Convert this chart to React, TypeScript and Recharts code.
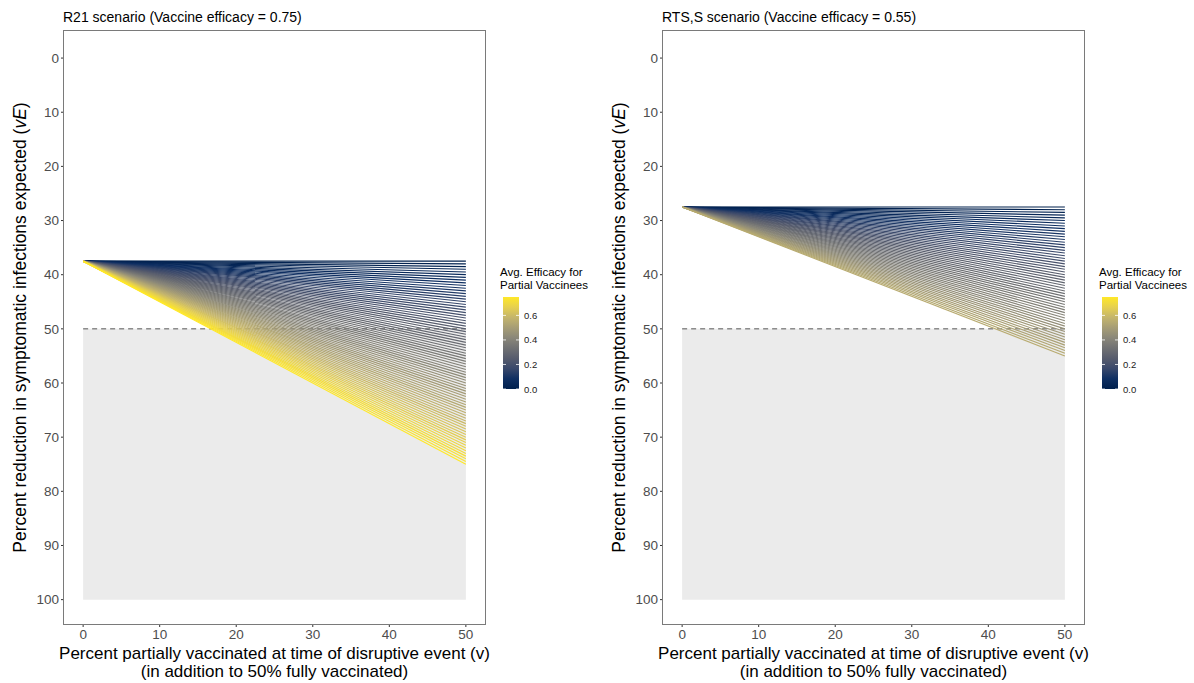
import React from 'react';
import { LineChart, Line, XAxis, YAxis, ReferenceArea, ReferenceLine } from 'recharts';

// reduction (%) at v = 0 and at v = 50, one line per avg. efficacy level
const R21_START = 37.5;
const R21_END = [
  37.5, 38, 38.5, 39, 39.5, 40, 40.5, 41, 41.5, 42, 42.5, 43, 43.5, 44, 44.5, 45, 45.5, 46, 46.5,
  47, 47.5, 48, 48.5, 49, 49.5, 50, 50.5, 51, 51.5, 52, 52.5, 53, 53.5, 54, 54.5, 55, 55.5, 56,
  56.5, 57, 57.5, 58, 58.5, 59, 59.5, 60, 60.5, 61, 61.5, 62, 62.5, 63, 63.5, 64, 64.5, 65, 65.5,
  66, 66.5, 67, 67.5, 68, 68.5, 69, 69.5, 70, 70.5, 71, 71.5, 72, 72.5, 73, 73.5, 74, 74.5, 75,
];
const RTSS_START = 27.5;
const RTSS_END = [
  27.5, 28, 28.5, 29, 29.5, 30, 30.5, 31, 31.5, 32, 32.5, 33, 33.5, 34, 34.5, 35, 35.5, 36, 36.5,
  37, 37.5, 38, 38.5, 39, 39.5, 40, 40.5, 41, 41.5, 42, 42.5, 43, 43.5, 44, 44.5, 45, 45.5, 46,
  46.5, 47, 47.5, 48, 48.5, 49, 49.5, 50, 50.5, 51, 51.5, 52, 52.5, 53, 53.5, 54, 54.5, 55,
];

const X_TICKS = [0, 10, 20, 30, 40, 50];
const Y_TICKS = [0, 10, 20, 30, 40, 50, 60, 70, 80, 90, 100];
const LEGEND_TICKS = [0, 0.2, 0.4, 0.6];
const LEGEND_MAX = 0.75;

const CIVIDIS = [
  '#00204D', '#0F2F62', '#39486B', '#575C6D', '#707173',
  '#8A8779', '#A69D75', '#C4B56C', '#E6D04F', '#FFE828',
];

const FONT = '"Liberation Sans", Arial, Helvetica, sans-serif';

const hexToRgb = (h: string) => [1, 3, 5].map((i) => parseInt(h.slice(i, i + 2), 16));

const cividis = (t: number) => {
  const c = Math.max(0, Math.min(1, t)) * (CIVIDIS.length - 1);
  const i = Math.min(Math.floor(c), CIVIDIS.length - 2);
  const f = c - i;
  const a = hexToRgb(CIVIDIS[i]);
  const b = hexToRgb(CIVIDIS[i + 1]);
  const m = a.map((v, k) => Math.round(v + (b[k] - v) * f));
  return `rgb(${m[0]},${m[1]},${m[2]})`;
};

const PLOT_LEFT = 64;
const PLOT_TOP = 31;
const PLOT_RIGHT = 485;
const PLOT_BOTTOM = 624;

interface PanelProps {
  left: number;
  title: string;
  start: number;
  ends: number[];
  id: string;
}

const ColorBar: React.FC<{ id: string }> = ({ id }) => {
  const top = 297;
  const bottom = 389;
  const h = bottom - top;
  return (
    <svg width={110} height={140} style={{ position: 'absolute', left: 495, top: 260, overflow: 'visible' }}>
      <defs>
        <linearGradient id={id} x1="0" y1="1" x2="0" y2="0">
          {CIVIDIS.map((c, i) => (
            <stop key={i} offset={i / (CIVIDIS.length - 1)} stopColor={c} />
          ))}
        </linearGradient>
      </defs>
      <g transform="translate(-495,-260)" fontFamily={FONT}>
        <text x={500} y={276} fontSize={11.5} fill="#000">Avg. Efficacy for</text>
        <text x={500} y={289} fontSize={11.5} fill="#000">Partial Vaccinees</text>
        <rect x={503} y={top} width={16} height={h} fill={`url(#${id})`} />
        {LEGEND_TICKS.map((v) => {
          const y = bottom - (v / LEGEND_MAX) * h;
          return (
            <g key={v}>
              <line x1={503} x2={506} y1={y} y2={y} stroke="#fff" strokeWidth={0.8} />
              <line x1={516} x2={519} y1={y} y2={y} stroke="#fff" strokeWidth={0.8} />
              <text x={524} y={y + 3.5} fontSize={9.5} fill="#222">{v.toFixed(1)}</text>
            </g>
          );
        })}
      </g>
    </svg>
  );
};

const Panel: React.FC<PanelProps> = ({ left, title, start, ends, id }) => {
  const cx = (PLOT_LEFT + PLOT_RIGHT) / 2;
  const cy = (PLOT_TOP + PLOT_BOTTOM) / 2;
  return (
    <div style={{ position: 'absolute', left, top: 0, width: 600, height: 683 }}>
      <LineChart
        width={486}
        height={683}
        margin={{ top: PLOT_TOP, right: 486 - PLOT_RIGHT, bottom: 683 - PLOT_BOTTOM - 30, left: 0 }}
      >
        <XAxis
          type="number"
          dataKey="x"
          domain={[-2.5, 52.5]}
          ticks={X_TICKS}
          allowDataOverflow
          axisLine={false}
          tickSize={3}
          tickLine={{ stroke: '#333' }}
          tick={{ fill: '#4D4D4D', fontSize: 13.5, fontFamily: FONT }}
          height={30}
        />
        <YAxis
          type="number"
          dataKey="y"
          domain={[-5, 104.5]}
          reversed
          ticks={Y_TICKS}
          allowDataOverflow
          axisLine={false}
          tickSize={3}
          tickLine={{ stroke: '#333' }}
          tick={{ fill: '#4D4D4D', fontSize: 13.5, fontFamily: FONT }}
          width={PLOT_LEFT}
        />
        <ReferenceArea x1={0} x2={50} y1={50} y2={100} fill="#EBEBEB" fillOpacity={1} stroke="none" />
        <ReferenceLine
          segment={[{ x: 0, y: 50 }, { x: 50, y: 50 }]}
          stroke="#555"
          strokeWidth={1}
          strokeDasharray="5 4"
        />
        {ends.map((end) => (
          <Line
            key={end}
            data={[{ x: 0, y: start }, { x: 50, y: end }]}
            dataKey="y"
            stroke={cividis((end - start) / 50 / LEGEND_MAX)}
            strokeWidth={1.15}
            dot={false}
            activeDot={false}
            isAnimationActive={false}
          />
        ))}
      </LineChart>
      <div
        style={{
          position: 'absolute',
          left: PLOT_LEFT - 1,
          top: PLOT_TOP - 1,
          width: PLOT_RIGHT - PLOT_LEFT + 2,
          height: PLOT_BOTTOM - PLOT_TOP + 2,
          border: '1px solid #7a7a7a',
          boxSizing: 'border-box',
          pointerEvents: 'none',
        }}
      />
      <svg width={600} height={683} style={{ position: 'absolute', left: 0, top: 0, pointerEvents: 'none' }}>
        <g fontFamily={FONT} fill="#000">
          <text x={63} y={22} fontSize={14}>{title}</text>
          <text x={cx} y={659} fontSize={17} textAnchor="middle">
            Percent partially vaccinated at time of disruptive event (v)
          </text>
          <text x={cx} y={677} fontSize={17} textAnchor="middle">
            (in addition to 50% fully vaccinated)
          </text>
          <text x={26} y={cy} fontSize={17.5} textAnchor="middle" transform={`rotate(-90, 26, ${cy})`}>
            Percent reduction in symptomatic infections expected (<tspan fontStyle="italic">vE</tspan>)
          </text>
        </g>
      </svg>
      <ColorBar id={id} />
    </div>
  );
};

export default function App() {
  return (
    <div style={{ position: 'absolute', left: 0, top: 0, width: 1194, height: 683, background: '#fff', fontFamily: FONT }}>
      <Panel id="cbar1" left={0} title="R21 scenario (Vaccine efficacy = 0.75)" start={R21_START} ends={R21_END} />
      <Panel id="cbar2" left={599} title="RTS,S scenario (Vaccine efficacy = 0.55)" start={RTSS_START} ends={RTSS_END} />
    </div>
  );
}
